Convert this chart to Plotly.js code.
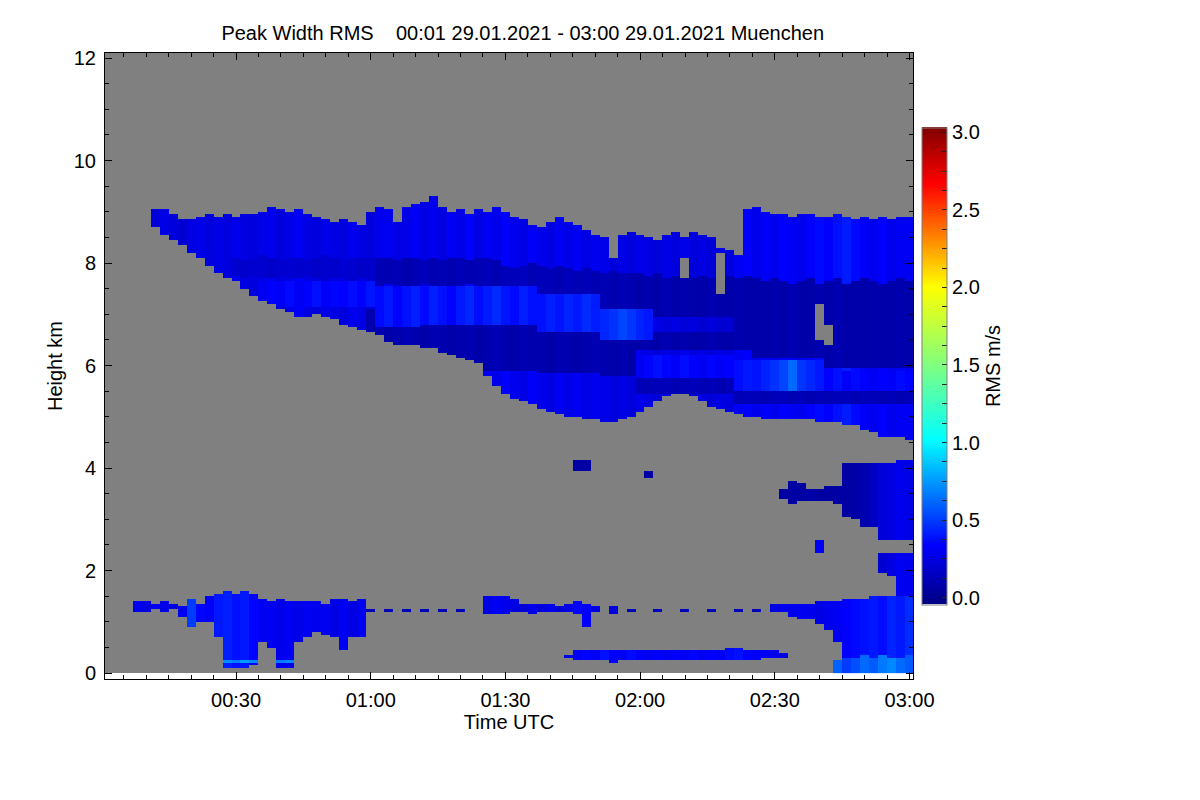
<!DOCTYPE html>
<html>
<head>
<meta charset="utf-8">
<script src="https://cdn.plot.ly/plotly-3.0.1.min.js"></script>
<style>body{margin:0;background:#fff}</style>
</head>
<body>
<div id="chart" style="width:1200px;height:800px"></div>
<script>
// radar columns every 2 minutes, minutes after 00:00 UTC, height rows every 50 m
var colStep = 2, firstCol = 2, lastCol = 180;
var rowStep = 0.05, topRow = 9.5;

// upper cloud (cirrus), columns from t=12 min to 180 min
var cirrusStart = 12;
var cirrusTop = [9.05, 9.05, 8.95, 8.85, 8.85, 8.9, 8.95, 8.9, 8.95, 8.9,
  8.95, 8.95, 9.0, 9.1, 9.05, 9.0, 9.05, 8.95, 8.9, 8.85,
  8.8, 8.85, 8.8, 8.75, 9.0, 9.1, 9.05, 8.8, 9.1, 9.15,
  9.2, 9.3, 9.1, 9.0, 9.05, 8.95, 9.05, 9.0, 9.1, 9.0,
  8.9, 8.85, 8.75, 8.7, 8.8, 8.9, 8.8, 8.75, 8.65, 8.55,
  8.5, 8.1, 8.55, 8.6, 8.55, 8.5, 8.45, 8.55, 8.6, 8.5,
  8.6, 8.55, 8.5, 8.3, 8.25, 8.15, 9.05, 9.1, 9.0, 8.95,
  8.95, 8.9, 8.95, 8.95, 8.9, 8.9, 8.95, 8.9, 8.85, 8.9,
  8.85, 8.9, 8.85, 8.9, 8.9];
var cirrusBase = [8.7, 8.55, 8.45, 8.35, 8.2, 8.1, 7.95, 7.8, 7.7, 7.65,
  7.5, 7.35, 7.25, 7.2, 7.1, 7.05, 6.95, 6.95, 7.0, 6.95,
  6.9, 6.8, 6.75, 6.7, 6.65, 6.6, 6.45, 6.4, 6.4, 6.4,
  6.35, 6.35, 6.25, 6.2, 6.15, 6.1, 6.05, 5.8, 5.6, 5.45,
  5.35, 5.3, 5.25, 5.15, 5.1, 5.05, 5.0, 5.0, 4.95, 4.95,
  4.9, 4.9, 4.95, 5.0, 5.1, 5.2, 5.3, 5.4, 5.45, 5.45,
  5.4, 5.3, 5.2, 5.15, 5.1, 5.05, 5.0, 5.0, 4.95, 4.95,
  4.95, 4.95, 4.95, 4.95, 4.9, 4.9, 4.9, 4.85, 4.85, 4.75,
  4.7, 4.6, 4.6, 4.6, 4.55];
var cirrusRms = [0.22, 0.26, 0.23, 0.21, 0.25, 0.27, 0.23, 0.26, 0.24, 0.28,
  0.25, 0.23, 0.27, 0.29, 0.24, 0.26, 0.31, 0.25, 0.23, 0.27,
  0.26, 0.24, 0.29, 0.26, 0.23, 0.28, 0.3, 0.25, 0.27, 0.32,
  0.26, 0.29, 0.25, 0.31, 0.27, 0.34, 0.26, 0.3, 0.28, 0.33,
  0.29, 0.26, 0.32, 0.28, 0.25, 0.3, 0.27, 0.31, 0.26, 0.29,
  0.27, 0.24, 0.26, 0.23, 0.28, 0.25, 0.22, 0.26, 0.24, 0.27,
  0.23, 0.25, 0.22, 0.26, 0.24, 0.3, 0.33, 0.28, 0.32, 0.29,
  0.34, 0.31, 0.28, 0.33, 0.36, 0.33, 0.38, 0.41, 0.36, 0.32,
  0.29, 0.33, 0.28, 0.31, 0.3];

// darker upper band inside the cirrus, t=30..180
var darkAStart = 30;
var darkATop = [8.1, 8.05, 8.1, 8.15, 8.1, 8.05, 8.1, 8.1, 8.05, 8.1, 8.15, 8.1, 8.05, 8.1, 8.1, 8.1,
  8.1, 8.1, 8.05, 8.1, 8.1, 8.05, 8.1, 8.05, 8.1, 8.1, 8.05, 8.1, 8.1, 8.05,
  7.95, 7.9, 7.95, 8.0, 7.95, 7.9, 7.95, 7.9, 7.85, 7.9, 7.85, 7.8, 7.85, 7.8, 7.8,
  7.8, 7.75, 7.8, 7.7, 7.75, 7.8, 7.7, 7.75, 7.7, 7.8, 7.75, 7.7, 7.75,
  7.7, 7.65, 7.7, 7.65, 7.6, 7.65, 7.7, 7.6, 7.65, 7.7, 7.6, 7.65, 7.7, 7.65, 7.6, 7.65, 7.7, 7.65];
var darkABase = [7.75, 7.7, 7.75, 7.7, 7.7, 7.75, 7.7, 7.7, 7.75, 7.7, 7.65, 7.7, 7.7, 7.65, 7.7, 7.65,
  7.55, 7.6, 7.55, 7.5, 7.55, 7.6, 7.55, 7.55, 7.5, 7.55, 7.6, 7.55, 7.5, 7.55,
  7.5, 7.5, 7.45, 7.45, 7.4, 7.4, 7.4, 7.4, 7.4, 7.4, 7.4, 7.1, 7.1, 7.1, 7.1,
  6.3, 6.3, 6.3, 6.3, 6.3, 6.3, 6.3, 6.3, 6.3, 6.3, 6.3, 6.3, 6.3,
  6.15, 6.15, 6.15, 6.15, 6.15, 6.15, 6.15, 6.15, 5.95, 5.95, 5.95, 5.95, 5.95, 5.95, 5.95, 5.95, 5.95, 5.95];
var darkARms = [0.19, 0.18, 0.2, 0.19, 0.17, 0.19, 0.2, 0.18, 0.19, 0.17, 0.19, 0.18, 0.2, 0.19, 0.17, 0.18,
  0.11, 0.1, 0.12, 0.09, 0.11, 0.13, 0.1, 0.11, 0.09, 0.12, 0.1, 0.11, 0.13, 0.1,
  0.13, 0.12, 0.14, 0.11, 0.13, 0.12, 0.1, 0.13, 0.11, 0.12, 0.1, 0.11, 0.09, 0.11, 0.1,
  0.08, 0.09, 0.07, 0.1, 0.08, 0.09, 0.07, 0.08, 0.1, 0.08, 0.07, 0.09, 0.08,
  0.08, 0.07, 0.09, 0.08, 0.1, 0.08, 0.07, 0.09, 0.08, 0.1, 0.08, 0.07, 0.08, 0.09, 0.08, 0.07, 0.09, 0.08];

// brighter sloping band in the middle of the cirrus, t=36..140
var bright1Start = 36;
var bright1Top = [7.65, 7.65, 7.65, 7.65, 7.65, 7.65, 7.65, 7.65, 7.65, 7.65, 7.65, 7.65, 7.65,
  7.55, 7.55, 7.55, 7.55, 7.55,
  7.55, 7.55, 7.55, 7.55, 7.55, 7.55, 7.55, 7.55, 7.55, 7.55, 7.55, 7.55, 7.55,
  7.4, 7.4, 7.4, 7.4, 7.4, 7.4, 7.4,
  7.1, 7.1, 7.1, 7.1, 7.1, 7.1,
  6.95, 6.95, 6.95, 6.95, 6.95, 6.95, 6.95, 6.95, 6.95];
var bright1Base = [7.15, 7.15, 7.15, 7.15, 7.15, 7.15, 7.15, 7.15, 7.15, 7.15, 7.15, 7.15, 7.15,
  6.75, 6.75, 6.75, 6.75, 6.75,
  6.8, 6.8, 6.8, 6.8, 6.8, 6.8, 6.8, 6.8, 6.8, 6.8, 6.8, 6.8, 6.8,
  6.65, 6.65, 6.65, 6.65, 6.65, 6.65, 6.65,
  6.5, 6.5, 6.5, 6.5, 6.5, 6.5,
  6.65, 6.65, 6.65, 6.65, 6.65, 6.65, 6.65, 6.65, 6.65];
var bright1Rms = [0.3, 0.34, 0.32, 0.36, 0.31, 0.34, 0.38, 0.32, 0.35, 0.33, 0.37, 0.34, 0.39,
  0.36, 0.4, 0.34, 0.38, 0.42,
  0.36, 0.42, 0.38, 0.34, 0.4, 0.44, 0.37, 0.41, 0.45, 0.39, 0.36, 0.42, 0.38,
  0.38, 0.42, 0.39, 0.43, 0.4, 0.45, 0.41,
  0.44, 0.47, 0.52, 0.48, 0.43, 0.4,
  0.26, 0.23, 0.26, 0.22, 0.24, 0.21, 0.23, 0.2, 0.21];

// dark band under the bright one, t=60..118
var darkBStart = 60;
var darkBTop = [7.1, 6.75, 6.75, 6.75, 6.75, 6.75, 6.8, 6.8, 6.8, 6.8, 6.8, 6.8, 6.8,
  6.8, 6.8, 6.8, 6.8, 6.8, 6.8,
  6.65, 6.65, 6.65, 6.65, 6.65, 6.65, 6.65,
  6.5, 6.5, 6.5, 6.5];
var darkBBase = [5.0, 5.0, 5.0, 5.0, 5.0, 5.0, 5.0, 5.0, 5.0, 5.0, 5.0, 5.0, 5.0,
  5.9, 5.9, 5.9, 5.9, 5.9, 5.9,
  5.85, 5.85, 5.85, 5.85, 5.85, 5.85, 5.85,
  5.8, 5.8, 5.8, 5.8];
var darkBRms = [0.09, 0.1, 0.08, 0.09, 0.11, 0.09, 0.08, 0.1, 0.09, 0.07, 0.09, 0.1, 0.08,
  0.09, 0.11, 0.09, 0.08, 0.1, 0.09,
  0.09, 0.07, 0.1, 0.09, 0.08, 0.09, 0.1,
  0.09, 0.08, 0.09, 0.07];

// lower bright band of the cirrus, t=120..180
var bright2Start = 120;
var bright2Top = [6.2, 6.2, 6.2, 6.2, 6.2, 6.2, 6.2, 6.2, 6.2, 6.2, 6.2,
  6.1, 6.1, 6.1, 6.1, 6.1, 6.1, 6.1, 6.1, 6.1, 6.1,
  5.9, 5.9, 5.9, 5.9, 5.9, 5.9, 5.9, 5.9, 5.9, 5.9];
var bright2Base = [5.75, 5.75, 5.75, 5.75, 5.75, 5.75, 5.75, 5.75, 5.75, 5.75, 5.75,
  5.5, 5.5, 5.5, 5.5, 5.5, 5.5, 5.5, 5.5, 5.5, 5.5,
  5.45, 5.45, 5.45, 5.45, 5.45, 5.45, 5.45, 5.45, 5.45, 5.45];
var bright2Rms = [0.3, 0.35, 0.38, 0.35, 0.32, 0.37, 0.34, 0.3, 0.35, 0.32, 0.34,
  0.37, 0.4, 0.39, 0.43, 0.47, 0.52, 0.62, 0.48, 0.44, 0.4,
  0.34, 0.38, 0.32, 0.36, 0.34, 0.3, 0.34, 0.32, 0.36, 0.34];

// thin dark band just above the cirrus base, t=120..180
var darkCStart = 120;
var darkCTop = [5.75, 5.75, 5.75, 5.75, 5.75, 5.75, 5.75, 5.75, 5.75, 5.75, 5.75,
  5.5, 5.5, 5.5, 5.5, 5.5, 5.5, 5.5, 5.5, 5.5, 5.5, 5.5, 5.5, 5.5, 5.5, 5.5, 5.5, 5.5, 5.5, 5.5, 5.5];
var darkCBase = [5.45, 5.45, 5.45, 5.45, 5.45, 5.45, 5.45, 5.45, 5.45, 5.45, 5.45,
  5.25, 5.25, 5.25, 5.25, 5.25, 5.25, 5.25, 5.25, 5.25, 5.25, 5.25, 5.25, 5.25, 5.25, 5.25, 5.25, 5.25, 5.25, 5.25, 5.25];
var darkCRms = [0.12, 0.11, 0.13, 0.12, 0.1, 0.12, 0.13, 0.11, 0.12, 0.1, 0.12,
  0.11, 0.13, 0.12, 0.1, 0.12, 0.13, 0.11, 0.12, 0.1, 0.12, 0.11, 0.13, 0.12, 0.1, 0.12, 0.13, 0.11, 0.12, 0.1, 0.12];

// gaps inside the cirrus
var holeTime = [130, 138, 160, 162];
var holeTop = [8.1, 8.2, 7.2, 6.8];
var holeBase = [7.7, 7.4, 6.5, 6.4];

// mid-level layer at 3-4 km on the right, t=154..180
var midStart = 154;
var midTop = [3.77, 3.7, 3.6, 3.62, 3.65, 3.65, 4.1, 4.12, 4.1, 4.1, 4.12, 4.12, 4.15, 4.15];
var midBase = [3.3, 3.35, 3.35, 3.33, 3.35, 3.3, 3.05, 3.0, 2.85, 2.85, 2.6, 2.6, 2.6, 2.6];
var midRms = [0.06, 0.06, 0.07, 0.05, 0.06, 0.06, 0.06, 0.07, 0.09, 0.15, 0.22, 0.25, 0.28, 0.26];
var tailStart = 174;
var tailTop = [2.35, 2.35, 2.35, 2.35];
var tailBase = [1.95, 1.9, 1.5, 1.5];
var tailRms = [0.2, 0.25, 0.3, 0.28];

// boundary layer on the left, t=8..58
var lowStart = 8;
var lowTop = [1.4, 1.4, 1.35, 1.4, 1.35, 1.3, 1.45, 1.35, 1.5, 1.55, 1.6, 1.55, 1.6, 1.55, 1.45, 1.4,
  1.45, 1.4, 1.4, 1.4, 1.4, 1.35, 1.45, 1.45, 1.4, 1.45];
var lowBase = [1.2, 1.2, 1.25, 1.2, 1.25, 1.1, 0.9, 1.0, 1.0, 0.7, 0.1, 0.1, 0.1, 0.15, 0.6, 0.5,
  0.1, 0.1, 0.6, 0.7, 0.8, 0.75, 0.7, 0.45, 0.7, 0.7];
var lowRms = [0.28, 0.25, 0.3, 0.27, 0.25, 0.3, 0.5, 0.35, 0.32, 0.4, 0.42, 0.38, 0.4, 0.35, 0.3, 0.3,
  0.28, 0.3, 0.27, 0.3, 0.28, 0.3, 0.26, 0.3, 0.25, 0.3];

// layer near 1.3 km in the middle, t=86..114
var midLowStart = 86;
var midLowTop = [1.48, 1.5, 1.48, 1.45, 1.37, 1.35, 1.37, 1.33, 1.3, 1.35, 1.4, 1.37, 1.3, null, 1.29];
var midLowBase = [1.17, 1.15, 1.17, 1.2, 1.2, 1.17, 1.2, 1.2, 1.22, 1.2, 1.15, 0.9, 1.2, null, 1.17];
var midLowRms = [0.26, 0.3, 0.28, 0.25, 0.22, 0.27, 0.24, 0.27, 0.22, 0.27, 0.35, 0.33, 0.25, null, 0.22];

// shallow layer at 0.3-0.5 km, t=104..152
var nearStart = 104;
var nearTop = [0.37, 0.45, 0.45, 0.45, 0.47, 0.45, 0.45, 0.43, 0.45, 0.43, 0.45, 0.45, 0.43,
  0.45, 0.45, 0.43, 0.45, 0.47, 0.49, 0.49, 0.47, 0.45, 0.43, 0.43, 0.4];
var nearBase = [0.29, 0.25, 0.25, 0.27, 0.25, 0.22, 0.27, 0.25, 0.25, 0.27, 0.25, 0.27, 0.25,
  0.27, 0.25, 0.27, 0.25, 0.25, 0.25, 0.27, 0.25, 0.27, 0.3, 0.3, 0.32];
var nearRms = [0.25, 0.3, 0.35, 0.3, 0.38, 0.33, 0.3, 0.36, 0.32, 0.3, 0.34, 0.3, 0.33,
  0.3, 0.35, 0.3, 0.33, 0.32, 0.36, 0.38, 0.34, 0.32, 0.3, 0.28, 0.25];

// boundary layer on the right, t=150..180
var lowRightStart = 150;
var lowRightTop = [1.33, 1.33, 1.35, 1.37, 1.37, 1.39, 1.39, 1.42, 1.45, 1.45, 1.45, 1.48, 1.48, 1.48, 1.48, 1.48];
var lowRightBase = [1.19, 1.19, 1.1, 1.03, 1.03, 0.95, 0.85, 0.6, 0.2, 0, 0, 0, 0, 0, 0, 0];
var lowRightRms = [0.26, 0.28, 0.28, 0.3, 0.28, 0.26, 0.28, 0.3, 0.33, 0.36, 0.38, 0.4, 0.37, 0.43, 0.4, 0.46];
var surfaceStart = 164;
var surfaceTop = [0.25, 0.3, 0.3, 0.35, 0.3, 0.35, 0.3, 0.3, 0.35];
var surfaceRms = [0.6, 0.5, 0.55, 0.62, 0.58, 0.66, 0.7, 0.62, 0.58];

// small isolated echoes
var spotTime = [106, 108, 122, 152, 160, 28, 30, 32, 34, 40, 42];
var spotTop = [4.15, 4.15, 3.95, 3.6, 2.6, 0.25, 0.25, 0.25, 0.25, 0.25, 0.25];
var spotBase = [3.95, 3.95, 3.8, 3.4, 2.35, 0.2, 0.2, 0.2, 0.2, 0.2, 0.2];
var spotRms = [0.06, 0.06, 0.06, 0.06, 0.3, 0.72, 0.66, 0.75, 0.7, 0.66, 0.7];
// dotted thin line at 1.25 km
var dotTime = [60, 64, 68, 72, 76, 80, 118, 124, 130, 136, 142, 146];
var dotRms = 0.12;

var dayStart = Date.UTC(2021, 0, 29, 0, 0, 0);
function stamp(min) {
  return new Date(dayStart + min * 60000).toISOString().slice(0, 19).replace('T', ' ');
}

var colMin = [];
for (var m = firstCol; m <= lastCol; m += colStep) colMin.push(m);
var rowKm = [];
for (var j = 0; (j + 0.5) * rowStep < topRow; j++) rowKm.push(+((j + 0.5) * rowStep).toFixed(3));

var z = rowKm.map(function () { return colMin.map(function () { return null; }); });

function paint(start, top, base, rms, onlyCloud) {
  top.forEach(function (tp, k) {
    if (tp === null) return;
    var c = (start + k * colStep - firstCol) / colStep;
    var b = Array.isArray(base) ? base[k] : base;
    var v = Array.isArray(rms) ? rms[k] : rms;
    rowKm.forEach(function (h, r) {
      if (h < b || h > tp) return;
      if (onlyCloud && z[r][c] === null) return;
      z[r][c] = v;
    });
  });
}

paint(cirrusStart, cirrusTop, cirrusBase, cirrusRms, false);
paint(darkAStart, darkATop, darkABase, darkARms, true);
paint(darkBStart, darkBTop, darkBBase, darkBRms, true);
paint(bright1Start, bright1Top, bright1Base, bright1Rms, true);
paint(bright2Start, bright2Top, bright2Base, bright2Rms, true);
paint(darkCStart, darkCTop, darkCBase, darkCRms, true);
holeTime.forEach(function (t, k) { paint(t, [holeTop[k]], [holeBase[k]], [null], true); });
paint(midStart, midTop, midBase, midRms, false);
paint(tailStart, tailTop, tailBase, tailRms, false);
paint(lowStart, lowTop, lowBase, lowRms, false);
paint(midLowStart, midLowTop, midLowBase, midLowRms, false);
paint(nearStart, nearTop, nearBase, nearRms, false);
paint(lowRightStart, lowRightTop, lowRightBase, lowRightRms, false);
paint(surfaceStart, surfaceTop, 0, surfaceRms, false);
spotTime.forEach(function (t, k) { paint(t, [spotTop[k]], [spotBase[k]], [spotRms[k]], false); });
dotTime.forEach(function (t) { paint(t, [1.26], [1.22], dotRms, false); });

var zMin = -0.045, zMax = 3.032;
var rmsTicks = [], rmsLabels = [];
for (var q = 0; q <= 24; q++) {
  rmsTicks.push(q * 0.125);
  rmsLabels.push(q % 4 === 0 ? (q * 0.125).toFixed(1) : '');
}

var fontFam = 'Liberation Sans, Arial, Helvetica, sans-serif';

var data = [{
  type: 'heatmap',
  x: colMin.map(stamp),
  y: rowKm,
  z: z,
  zmin: zMin, zmax: zMax,
  hoverongaps: false,
  colorscale: [
    [0, 'rgb(0,0,131)'], [0.125, 'rgb(0,0,255)'], [0.345, 'rgb(0,255,255)'],
    [0.5, 'rgb(128,255,128)'], [0.665, 'rgb(255,255,0)'], [0.88, 'rgb(255,0,0)'], [1, 'rgb(128,0,0)']
  ],
  colorbar: {
    thickness: 25, thicknessmode: 'pixels',
    len: 477, lenmode: 'pixels',
    x: 1.011, xanchor: 'left', y: 0.5, yanchor: 'middle',
    xpad: 0, ypad: 0,
    outlinecolor: '#7f7f7f', outlinewidth: 1,
    tickvals: rmsTicks, ticktext: rmsLabels,
    ticks: 'inside', ticklen: 5, tickcolor: '#222', tickwidth: 1,
    tickfont: { size: 20 },
    title: { text: 'RMS m/s', side: 'right', font: { size: 20 } }
  }
}];

var layout = {
  width: 1200, height: 800,
  margin: { l: 105, r: 287, t: 53, b: 121 },
  paper_bgcolor: 'white', plot_bgcolor: 'white',
  font: { family: fontFam, size: 20, color: 'black' },
  title: {
    text: 'Peak Width RMS\u00a0\u00a0\u00a0 00:01 29.01.2021 - 03:00 29.01.2021 Muenchen',
    x: 0.517, xref: 'paper', xanchor: 'center',
    y: 0.959, yref: 'container', yanchor: 'middle',
    font: { size: 20 }
  },
  xaxis: {
    type: 'date',
    range: [stamp(0.82), stamp(180.78)],
    tick0: stamp(0), dtick: 1800000, tickformat: '%H:%M',
    ticks: 'inside', ticklen: 7, tickcolor: 'black', tickwidth: 1,
    tickfont: { size: 20 },
    minor: { dtick: 300000, ticks: 'inside', ticklen: 4, tickcolor: 'black', showgrid: false },
    showline: true, linecolor: 'black', linewidth: 1, mirror: 'ticks',
    showgrid: false, zeroline: false,
    ticklabelstandoff: 3,
    title: { text: 'Time UTC', standoff: 0, font: { size: 20 } }
  },
  yaxis: {
    range: [-0.117, 12.098],
    dtick: 2, tick0: 0,
    ticks: 'inside', ticklen: 7, tickcolor: 'black', tickwidth: 1,
    tickfont: { size: 20 },
    minor: { dtick: 0.5, ticks: 'inside', ticklen: 4, tickcolor: 'black', showgrid: false },
    showline: true, linecolor: 'black', linewidth: 1, mirror: 'ticks',
    showgrid: false, zeroline: false,
    ticklabelstandoff: 4,
    title: { text: 'Height km', standoff: 5, font: { size: 20 } }
  },
  shapes: [{
    type: 'rect', layer: 'below', xref: 'paper', yref: 'y',
    x0: 0, x1: 1, y0: 0, y1: 12.098,
    fillcolor: '#808080', line: { width: 0 }
  }]
};

Plotly.newPlot('chart', data, layout, { displayModeBar: false, responsive: false, staticPlot: true });
</script>
</body>
</html>
